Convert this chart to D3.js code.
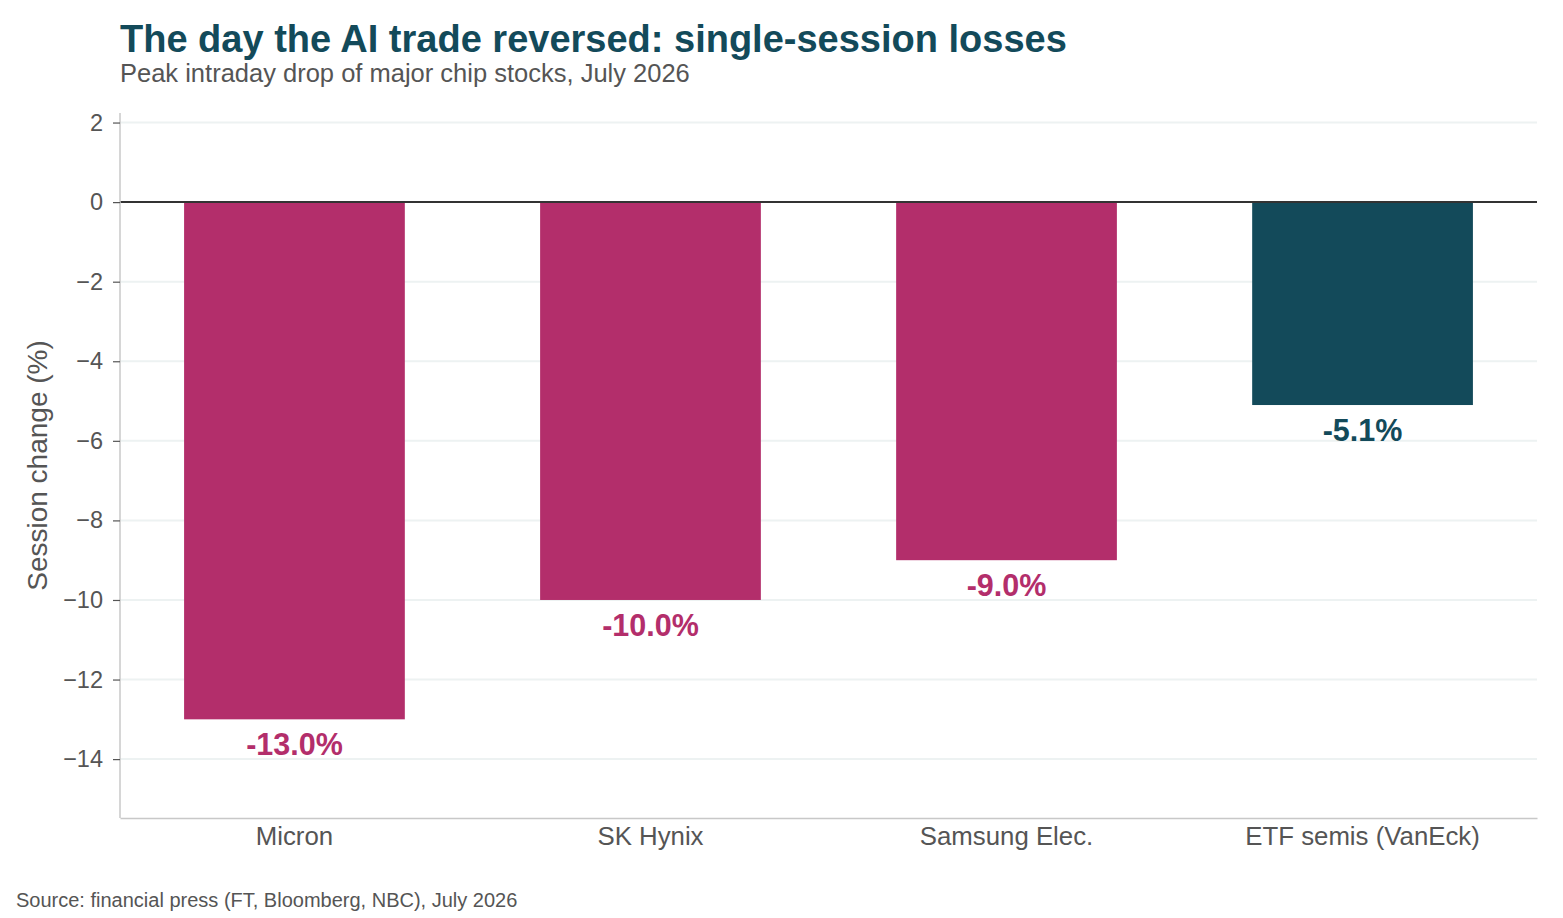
<!DOCTYPE html>
<html>
<head>
<meta charset="utf-8">
<script src="https://cdn.jsdelivr.net/npm/d3@7"></script>
<style>
  body { margin: 0; background: #fff; }
  svg { font-family: "Liberation Sans", Arial, sans-serif; }
</style>
</head>
<body>
<svg id="chart"></svg>
<script>
// data
const categories = ['Micron', 'SK Hynix', 'Samsung Elec.', 'ETF semis (VanEck)'];
const values = [-13.0, -10.0, -9.0, -5.1];
const barColors = ['#b32e6b', '#b32e6b', '#b32e6b', '#134a5a'];
const yTicks = [2, 0, -2, -4, -6, -8, -10, -12, -14];

const width = 1563, height = 918;
const margin = {top: 113, right: 26, bottom: 100, left: 120};

const svg = d3.select('#chart')
    .attr('width', width)
    .attr('height', height);

const inner_width = width - margin.left - margin.right;
const inner_height = height - margin.top - margin.bottom;

const chart = svg.append('g')
    .attr('transform', `translate(${margin.left}, ${margin.top})`);

const xscale = d3.scaleBand()
    .domain(categories)
    .range([0, inner_width])
    .paddingInner(0.38)
    .paddingOuter(0.18);

const yscale = d3.scaleLinear()
    .domain([-15.48, 2.24])
    .range([inner_height, 0]);

// gridlines
chart.append('g')
    .selectAll('line')
    .data(yTicks)
    .enter()
    .append('line')
    .attr('x1', 0)
    .attr('x2', inner_width)
    .attr('y1', d => yscale(d))
    .attr('y2', d => yscale(d))
    .attr('stroke', '#edf2f2')
    .attr('stroke-width', 2);

// bars
const data = categories.map((c, i) => ({label: c, value: values[i], color: barColors[i]}));

chart.selectAll('rect')
    .data(data)
    .enter()
    .append('rect')
    .attr('x', d => xscale(d.label))
    .attr('y', yscale(0))
    .attr('width', xscale.bandwidth())
    .attr('height', d => yscale(d.value) - yscale(0))
    .style('fill', d => d.color);

// value labels
chart.selectAll('.vlabel')
    .data(data)
    .enter()
    .append('text')
    .attr('class', 'vlabel')
    .attr('x', d => xscale(d.label) + xscale.bandwidth() / 2)
    .attr('y', d => yscale(d.value) + 36)
    .attr('text-anchor', 'middle')
    .style('font-size', '30.5px')
    .style('font-weight', 'bold')
    .style('fill', d => d.color)
    .text(d => d.value.toFixed(1) + '%');

// zero line
chart.append('line')
    .attr('x1', 0)
    .attr('x2', inner_width)
    .attr('y1', yscale(0))
    .attr('y2', yscale(0))
    .attr('stroke', '#333')
    .attr('stroke-width', 2);

// y axis
const yaxis = d3.axisLeft(yscale)
    .tickValues(yTicks)
    .tickSize(7)
    .tickPadding(10)
    .tickFormat(d => d3.format('d')(d).replace('-', '\u2212'));
const yaxis_group = chart.append('g').call(yaxis);
yaxis_group.select('.domain').attr('stroke', '#c8c8c8').attr('stroke-width', 1.5)
    .attr('d', `M0,0V${inner_height}`);
yaxis_group.selectAll('.tick line').attr('stroke', '#555').attr('stroke-width', 1.2);
yaxis_group.selectAll('.tick text')
    .style('font-size', '23.5px')
    .style('fill', '#555')
    .style('font-family', '"Liberation Sans", Arial, sans-serif');

// x axis
const xaxis = d3.axisBottom(xscale)
    .tickSize(0)
    .tickPadding(9);
const xaxis_group = chart.append('g')
    .attr('transform', `translate(0, ${inner_height})`)
    .call(xaxis);
xaxis_group.select('.domain').attr('stroke', '#c8c8c8').attr('stroke-width', 1.5);
xaxis_group.selectAll('.tick text')
    .style('font-size', '25.8px')
    .style('fill', '#555')
    .style('font-family', '"Liberation Sans", Arial, sans-serif');

// titles
svg.append('text')
    .attr('x', 120)
    .attr('y', 52)
    .style('font-size', '38px')
    .style('font-weight', 'bold')
    .style('fill', '#134a5a')
    .text('The day the AI trade reversed: single-session losses');

svg.append('text')
    .attr('x', 120)
    .attr('y', 82)
    .style('font-size', '25.5px')
    .style('fill', '#555')
    .text('Peak intraday drop of major chip stocks, July 2026');

// y label
svg.append('text')
    .attr('transform', 'rotate(-90)')
    .attr('x', -(margin.top + inner_height / 2))
    .attr('y', 47)
    .attr('text-anchor', 'middle')
    .style('font-size', '28px')
    .style('fill', '#555')
    .text('Session change (%)');

// source
svg.append('text')
    .attr('x', 16)
    .attr('y', 907)
    .style('font-size', '20px')
    .style('fill', '#555')
    .text('Source: financial press (FT, Bloomberg, NBC), July 2026');
</script>
</body>
</html>
